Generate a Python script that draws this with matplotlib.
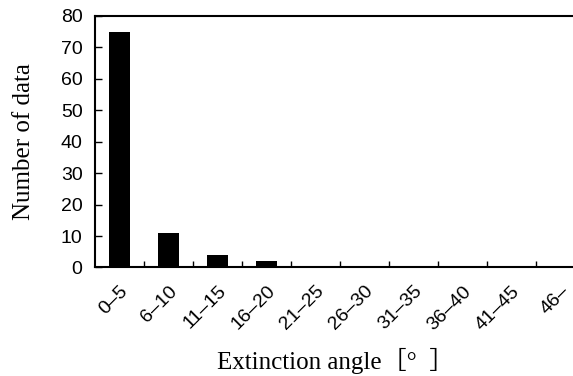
import numpy as np
import matplotlib.pyplot as plt

categories = ['0–5', '6–10', '11–15', '16–20', '21–25', '26–30',
              '31–35', '36–40', '41–45', '46–']
counts = [75, 11, 4, 2, 0, 0, 0, 0, 0, 0]
yticks = [0, 10, 20, 30, 40, 50, 60, 70, 80]

fig = plt.figure(figsize=(5.73, 3.76), dpi=100)
ax = fig.add_axes([0.1658, 0.2886, 0.855, 0.669])

x = np.arange(len(categories))
ax.bar(x, counts, width=0.43, color='black')

ax.set_xlim(-0.5, len(categories) - 0.5)
ax.set_ylim(0, 80)
ax.set_yticks(yticks)
ax.set_yticklabels([str(v) for v in yticks], family='Liberation Sans', fontsize=14)

ax.set_xticks(x)
ax.set_xticklabels(categories, rotation=45, ha='right', rotation_mode='anchor',
                   family='Liberation Sans', fontsize=14)
ax.tick_params(axis='x', which='major', length=0, pad=11)
ax.set_xticks(np.arange(0.5, len(categories) - 0.5, 1.0), minor=True)
ax.tick_params(axis='x', which='minor', direction='in', length=4, width=1)
ax.tick_params(axis='y', direction='in', length=5, width=1, pad=9)

for s in ax.spines.values():
    s.set_linewidth(1.5)

ax.set_ylabel('Number of data', family='Liberation Serif', fontsize=18)
ax.yaxis.set_label_coords(-0.122, 0.5)
ax.set_xlabel('Extinction angle［°  ］', family=['Liberation Serif', 'Noto Sans CJK JP'],
              fontsize=18)
ax.xaxis.set_label_coords(0.492, -0.318)

fig.savefig('out.png', dpi=100)
